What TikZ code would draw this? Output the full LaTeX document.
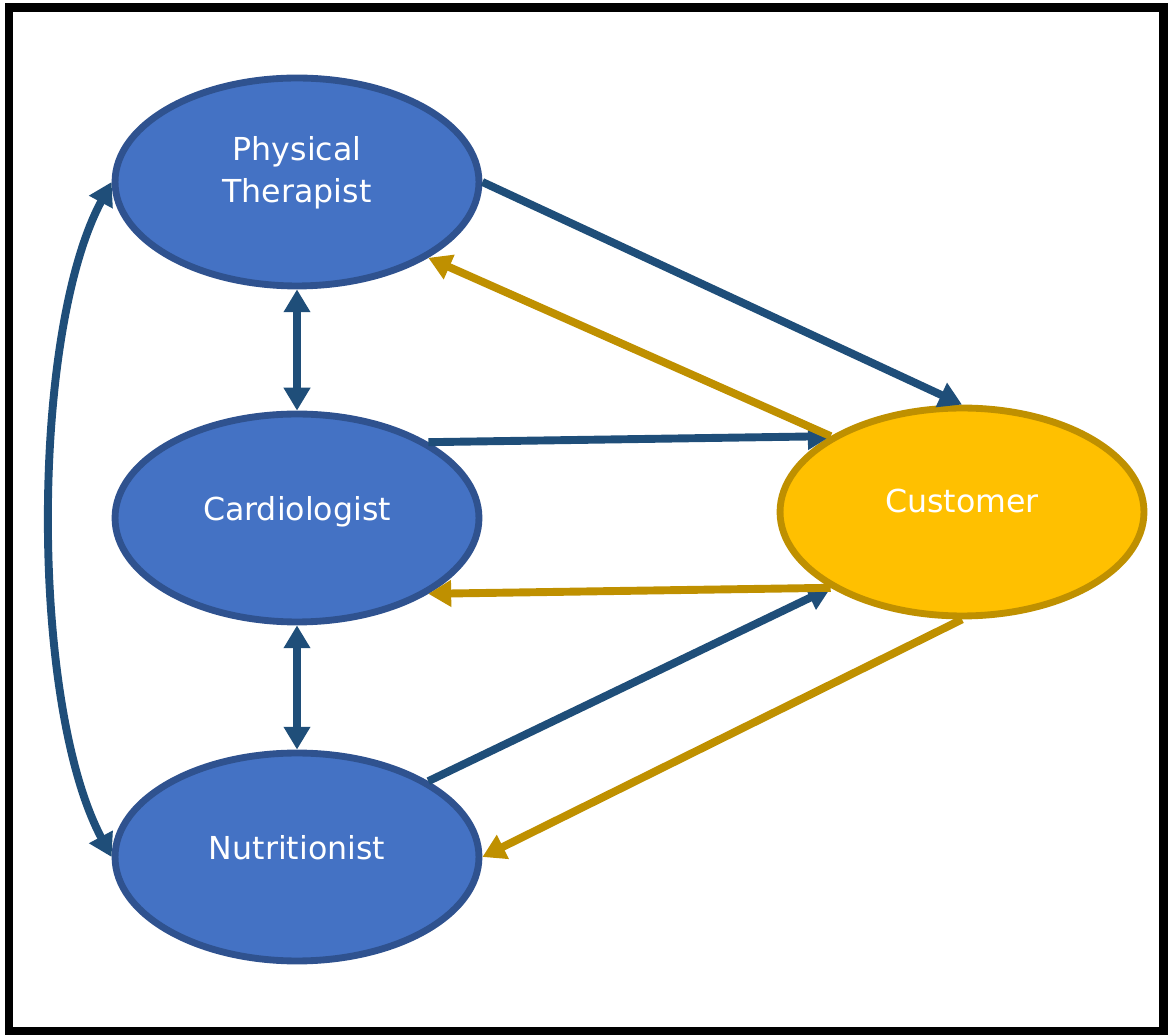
\documentclass[tikz,border=0pt]{standalone}
\usepackage{fontspec}
\setmainfont{DejaVu Sans}
\usepackage{tikz}
\usepackage{xcolor}
\usetikzlibrary{shapes.geometric, arrows.meta}

\definecolor{rolefill}{HTML}{4472C4}
\definecolor{roleedge}{HTML}{2F528F}
\definecolor{custfill}{HTML}{FFC000}
\definecolor{custedge}{HTML}{BF9000}
\definecolor{linkblue}{HTML}{1F4E79}
\definecolor{linkgold}{HTML}{BF9000}

\begin{document}
\begin{tikzpicture}[x=0.02cm, y=0.02cm,
    role/.style={ellipse, draw=roleedge, fill=rolefill, line width=3.9pt,
        minimum width=7.28cm, minimum height=4.16cm, text=white, align=center,
        text depth=10.5pt, font=\fontsize{18}{24}\selectfont},
    cust/.style={role, draw=custedge, fill=custfill},
    tolink/.style={line width=4.5pt, linkblue, -{Triangle[length=13pt, width=14.5pt]}},
    fromlink/.style={line width=4.5pt, linkgold, -{Triangle[length=13pt, width=14.5pt]}},
    bothlink/.style={line width=4.5pt, linkblue, {Triangle[length=13pt, width=14.5pt]}-{Triangle[length=13pt, width=14.5pt]}}]
    % Frame and page size
    \useasboundingbox (0,0) rectangle (1168,1034);
    \draw[line width=4.6pt] (9,1026.5) rectangle (1163.5,3);

    % Draw the people
    \node[role, text depth=14.5pt] (pt) at (297,852) {Physical\\Therapist};
    \node[role] (cardio) at (297,516) {Cardiologist};
    \node[role] (nutri) at (297,177) {Nutritionist};
    \node[cust, text depth=13pt] (cust) at (962,522) {Customer};

    % Links between the specialists
    \draw[bothlink] (pt.south) -- (cardio.north);
    \draw[bothlink] (cardio.south) -- (nutri.north);
    \draw[bothlink] (pt.west) .. controls (30,700) and (30,330) .. (nutri.west);

    % Specialists to customer
    \draw[tolink] (pt.east) -- (cust.north);
    \draw[tolink] (cardio.30) -- (cust.150);
    \draw[tolink] (nutri.30) -- (cust.210);

    % Customer back to specialists
    \draw[fromlink] (cust.150) -- (pt.-30);
    \draw[fromlink] (cust.210) -- (cardio.-30);
    \draw[fromlink] (cust.south) -- (nutri.east);
\end{tikzpicture}
\end{document}
